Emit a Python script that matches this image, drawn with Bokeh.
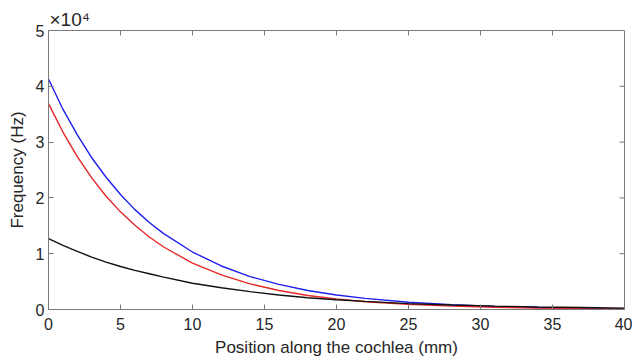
import math
from bokeh.plotting import figure
from bokeh.models import Range1d, FixedTicker
from bokeh.embed import file_html
from bokeh.resources import INLINE

# Position along the cochlea (mm)
pos = [0, 1, 2, 3, 4, 5, 6, 7, 8, 10, 12, 14, 16, 18, 20, 22, 25, 28, 31, 34, 37, 40]
# Frequencies (Hz)
blue_hz = [41300, 35900, 31300, 27200, 23700, 20600, 17900, 15600, 13600, 10300, 7800,
           5900, 4500, 3400, 2600, 2000, 1300, 850, 550, 350, 200, 100]
red_hz = [36900, 31800, 27400, 23600, 20300, 17500, 15100, 13000, 11200, 8300, 6200,
          4600, 3400, 2500, 1900, 1400, 950, 600, 400, 250, 150, 100]
black_hz = [12700, 11500, 10400, 9400, 8500, 7700, 7000, 6400, 5800, 4700, 3900,
            3200, 2600, 2100, 1750, 1450, 1050, 800, 600, 450, 350, 250]

x_ticks = [0, 5, 10, 15, 20, 25, 30, 35, 40]
y_ticks = [0, 10000, 20000, 30000, 40000, 50000]
y_tick_labels = ["0", "1", "2", "3", "4", "5"]
exponent_text = "×10⁴"

FONT = "Liberation Sans"
AX = "#7a7a7a"
TXT = "#262626"

p = figure(width=632, height=360, output_backend="svg", toolbar_location=None,
           x_range=Range1d(0, 40), y_range=Range1d(0, 50000),
           min_border_left=48, min_border_right=8, min_border_top=30, min_border_bottom=51)
p.background_fill_color = "white"
p.border_fill_color = "white"
p.grid.visible = False
p.outline_line_color = AX
p.outline_line_width = 1

# title used for the axis multiplier
p.title.text = exponent_text
p.title.align = "left"
p.title.offset = 1
p.title.standoff = 2
p.title.text_font = FONT
p.title.text_font_size = "19px"
p.title.text_font_style = "normal"
p.title.text_color = TXT

p.line(pos, blue_hz, line_color="#1f1fee", line_width=1.4)
p.line(pos, red_hz, line_color="#e82626", line_width=1.4)
p.line(pos, black_hz, line_color="#111111", line_width=1.4)

# box ticks on top and right edges (clipped half shows inside the frame)
top_x = x_ticks[1:-1]
p.scatter(top_x, [y_ticks[-1]] * len(top_x), marker="dash", size=10,
          angle=math.pi / 2, line_color=AX, line_width=1)
right_y = y_ticks[1:-1]
p.scatter([x_ticks[-1]] * len(right_y), right_y, marker="dash", size=10,
          line_color=AX, line_width=1)

xa = p.xaxis[0]
xa.ticker = FixedTicker(ticks=x_ticks)
xa.axis_label = "Position along the cochlea (mm)"
ya = p.yaxis[0]
ya.ticker = FixedTicker(ticks=y_ticks)
ya.major_label_overrides = {t: l for t, l in zip(y_ticks, y_tick_labels)}
ya.axis_label = "Frequency (Hz)"

for ax in (xa, ya):
    ax.axis_line_color = AX
    ax.major_tick_line_color = AX
    ax.major_tick_in = 5
    ax.major_tick_out = 0
    ax.minor_tick_line_color = None
    ax.major_label_text_font = FONT
    ax.major_label_text_font_size = "16px"
    ax.major_label_text_color = TXT
    ax.axis_label_text_font = FONT
    ax.axis_label_text_font_size = "17px"
    ax.axis_label_text_font_style = "normal"
    ax.axis_label_text_color = TXT
xa.major_label_standoff = 8
xa.axis_label_standoff = 5
ya.major_label_standoff = 4
ya.axis_label_standoff = 6

open("out.html", "w").write(file_html(p, INLINE))
